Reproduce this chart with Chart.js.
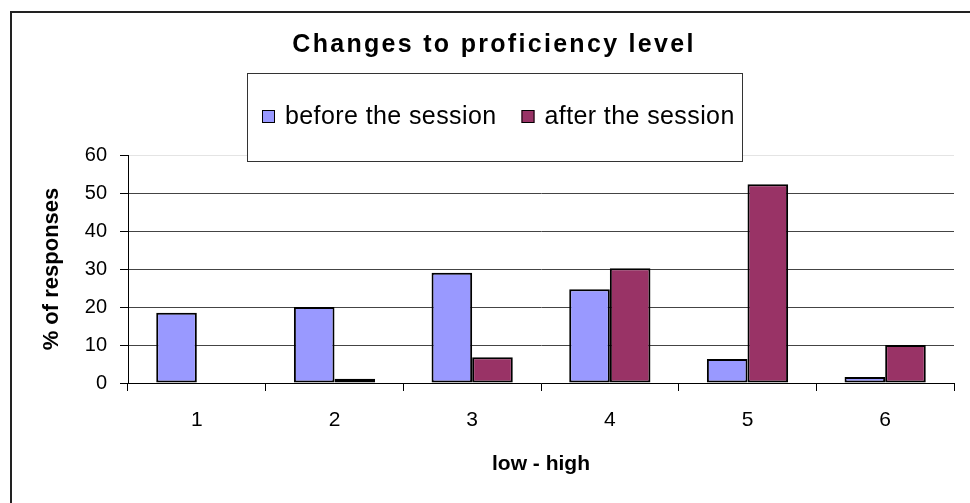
<!DOCTYPE html>
<html>
<head>
<meta charset="utf-8">
<script src="https://cdn.jsdelivr.net/npm/chart.js@4.4.0/dist/chart.umd.min.js"></script>
<style>
  html, body { margin: 0; padding: 0; background: #fff; }
  #wrap { width: 970px; height: 503px; }
</style>
</head>
<body>
<div id="wrap"><canvas id="chart" width="970" height="503"></canvas></div>
<script>
const chartTitle = 'Changes to proficiency level';
const levels = ['1', '2', '3', '4', '5', '6'];
const seriesNames = ['before the session', 'after the session'];
const beforeSession = [18.5, 20, 29, 24.7, 6.3, 1.6];
const afterSession = [0, 1.1, 6.8, 30.2, 52.3, 10];
const yMin = 0;
const yMax = 60;
const yStep = 10;

const FONT = '"Liberation Sans", Arial, sans-serif';

// title, legend box and outer frame, drawn over the chart like in Excel
const frame = {
    id: 'frame',
    afterDraw(chart) {
        const ctx = chart.ctx;
        ctx.save();

        ctx.strokeStyle = '#222';
        ctx.lineWidth = 2;
        ctx.beginPath();
        ctx.moveTo(11, 503);
        ctx.lineTo(11, 12);
        ctx.lineTo(970, 12);
        ctx.stroke();

        ctx.fillStyle = '#000';
        ctx.font = 'bold 25px ' + FONT;
        ctx.letterSpacing = '2.3px';
        ctx.textAlign = 'center';
        ctx.textBaseline = 'middle';
        ctx.fillText(chartTitle, 494, 45);

        // legend
        const box = { x: 247, y: 73, w: 495, h: 88 };
        ctx.letterSpacing = '0.4px';
        ctx.fillStyle = '#fff';
        ctx.fillRect(box.x, box.y, box.w, box.h);
        ctx.strokeStyle = '#333';
        ctx.lineWidth = 1;
        ctx.strokeRect(box.x + 0.5, box.y + 0.5, box.w, box.h);

        ctx.font = '25px ' + FONT;
        ctx.textAlign = 'left';
        let x = 262;
        const cy = box.y + box.h / 2;
        chart.data.datasets.forEach(ds => {
            ctx.fillStyle = ds.backgroundColor;
            ctx.fillRect(x, cy - 7, 13, 13);
            ctx.strokeStyle = '#000';
            ctx.strokeRect(x + 0.5, cy - 6.5, 12, 12);
            ctx.fillStyle = '#000';
            ctx.fillText(ds.label, x + 23, cy);
            x += 23 + ctx.measureText(ds.label).width + 25;
        });
        ctx.restore();
    }
};

new Chart(document.getElementById('chart'), {
    type: 'bar',
    data: {
        labels: levels,
        datasets: [{
            label: seriesNames[0],
            data: beforeSession,
            backgroundColor: '#9999ff',
            borderColor: '#000',
            borderWidth: 2,
            borderSkipped: false
        }, {
            label: seriesNames[1],
            data: afterSession,
            backgroundColor: '#993366',
            borderColor: '#000',
            borderWidth: 2,
            borderSkipped: false
        }]
    },
    options: {
        responsive: false,
        animation: false,
        layout: { padding: { left: 0, top: 155, right: 16, bottom: 0 } },
        datasets: { bar: { categoryPercentage: 0.59, barPercentage: 1 } },
        plugins: {
            legend: { display: false },
            title: { display: false },
            tooltip: { enabled: false }
        },
        scales: {
            x: {
                afterFit: scale => { scale.height = 120; },
                grid: { drawOnChartArea: false, drawTicks: true, tickLength: 8, tickColor: '#000', offset: true },
                border: { display: true, color: '#000', width: 1 },
                ticks: { color: '#000', font: { family: FONT, size: 21 }, padding: 17 },
                title: {
                    display: true, text: 'low - high', color: '#000',
                    font: { family: FONT, size: 21, weight: 'bold' },
                    padding: { top: 0, bottom: 26 }
                }
            },
            y: {
                min: yMin,
                max: yMax,
                afterFit: scale => { scale.width = 128; },
                grid: {
                    color: c => (c.tick && c.tick.value === yMax) ? '#e4e4e4' : '#444',
                    tickColor: '#000',
                    tickLength: 8
                },
                border: { display: true, color: '#000', width: 1 },
                ticks: { stepSize: yStep, color: '#000', font: { family: FONT, size: 20 }, padding: 13 },
                title: {
                    display: true, text: '% of responses', color: '#000',
                    font: { family: FONT, size: 22, weight: 'bold' },
                    padding: { top: 39, bottom: 0 }
                }
            }
        }
    },
    plugins: [frame]
});
</script>
</body>
</html>
